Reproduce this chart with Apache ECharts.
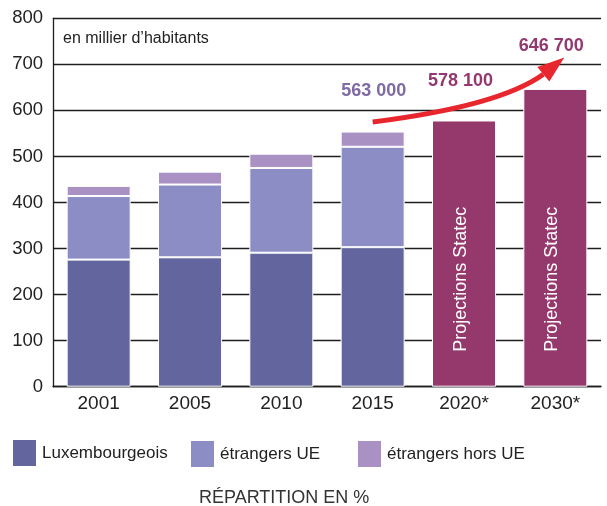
<!DOCTYPE html>
<html>
<head>
<meta charset="utf-8">
<style>
html,body{margin:0;padding:0;background:#fff;}
#c{width:607px;height:506px;}
</style>
<script src="https://cdn.jsdelivr.net/npm/echarts@6/dist/echarts.min.js"></script>
</head>
<body>
<div id="c"></div>
<script>
var categories = ['2001', '2005', '2010', '2015', '2020*', '2030*'];
var luxembourgeois = [276, 281, 291, 303, null, null];
var etrangersUE = [138, 158, 184, 218, null, null];
var etrangersHorsUE = [22, 28, 31, 33, null, null];
var projections = [null, null, null, null, 578.1, 646.7];
var totalLabelText = ['563 000', '578 100', '646 700'];
var totalLabelAt = [[3, 555], [4, 578.1], [5, 646.7]];
var yTicks = [0, 100, 200, 300, 400, 500, 600, 700, 800];

var FONT = "'Liberation Sans', Arial, Helvetica, sans-serif";
var C_LUX = '#63659e', C_UE = '#8b8dc4', C_HORS = '#a991c3', C_PROJ = '#95386c';
var LINE = '#1e1e1e';

var chart = echarts.init(document.getElementById('c'), null, {renderer: 'canvas'});

function barSeries(name, data, color) {
  return {
    name: name, type: 'bar', stack: 'pop', data: data,
    barWidth: 64,
    itemStyle: {color: color, borderColor: '#ffffff', borderWidth: 1},
    emphasis: {disabled: true}
  };
}

var labelColors = ['#7f6aa3', '#93396f', '#93396f'];
var labelOffsets = [[1, 2], [-3.5, 3], [-4, -1]];

var option = {
  animation: false,
  textStyle: {fontFamily: FONT},
  grid: {left: 53, right: 6, top: 18.3, bottom: 119.3, containLabel: false},
  xAxis: {
    type: 'category', data: categories,
    axisLine: {show: true, lineStyle: {color: LINE, width: 1.3}},
    axisTick: {show: false},
    axisLabel: {fontSize: 19, color: '#222', margin: 8, fontFamily: FONT}
  },
  yAxis: {
    type: 'value', min: yTicks[0], max: yTicks[yTicks.length - 1], interval: 100,
    axisLine: {show: true, lineStyle: {color: LINE, width: 1.3}},
    axisTick: {show: false},
    axisLabel: {fontSize: 18.5, color: '#222', margin: 10, fontFamily: FONT},
    splitLine: {show: true, lineStyle: {color: LINE, width: 1.3}}
  },
  legend: [
    {left: 13, top: 440, data: ['Luxembourgeois']},
    {left: 191, top: 441, data: ['étrangers UE']},
    {left: 358, top: 441, data: ['étrangers hors UE']}
  ].map(function (l) {
    l.itemWidth = 23; l.itemHeight = 26; l.itemGap = 0; l.icon = 'rect';
    l.selectedMode = false;
    l.itemStyle = {borderWidth: 0};
    l.textStyle = {fontSize: 17, color: '#222', fontFamily: FONT, padding: [0, 0, 0, 1]};
    l.padding = 0;
    return l;
  }),
  title: {
    text: 'RÉPARTITION EN %', left: 199, top: 489, padding: 0,
    textStyle: {fontSize: 18, fontWeight: 'normal', color: '#333', fontFamily: FONT}
  },
  series: [
    barSeries('Luxembourgeois', luxembourgeois, C_LUX),
    barSeries('étrangers UE', etrangersUE, C_UE),
    barSeries('étrangers hors UE', etrangersHorsUE, C_HORS),
    {
      name: 'Projections', type: 'bar', stack: 'pop', data: projections, barWidth: 64,
      itemStyle: {color: C_PROJ, borderColor: '#ffffff', borderWidth: 1},
      emphasis: {disabled: true},
      label: {
        show: true, position: 'insideBottom', distance: 35, rotate: 90,
        align: 'left', verticalAlign: 'middle', offset: [0, -3],
        formatter: 'Projections Statec', color: '#ffffff', fontSize: 18, fontFamily: FONT
      }
    },
    {
      name: 'totals', type: 'scatter', symbolSize: 0, silent: true, z: 5,
      itemStyle: {opacity: 1},
      data: totalLabelAt.map(function (p, i) {
        return {
          value: p,
          label: {
            show: true, position: 'top', distance: 33, offset: labelOffsets[i],
            formatter: totalLabelText[i], color: labelColors[i],
            fontSize: 18, fontWeight: 'bold', fontFamily: FONT, opacity: 1
          }
        };
      })
    }
  ]
};
chart.setOption(option);

// annotation: subtitle + red arrow
var s = chart.convertToPixel({gridIndex: 0}, [3, 575]);
var e = chart.convertToPixel({gridIndex: 0}, [5, 714]);
var tip = [e[0] + 9, e[1] - 0.5];
var b1 = [tip[0] - 27, tip[1] + 9.5];
var b2 = [tip[0] - 15, tip[1] + 24];
var bm = [(b1[0] + b2[0]) / 2, (b1[1] + b2[1]) / 2];
var ctrl = [s[0] + 127, s[1] - 16];

chart.setOption({
  graphic: [
    {
      type: 'text', left: 63, top: 31, z: 10,
      style: {text: 'en millier d’habitants', fontSize: 16, fill: '#222', fontFamily: FONT}
    },
    {
      type: 'bezierCurve', z: 10, silent: true,
      shape: {x1: s[0], y1: s[1], x2: bm[0], y2: bm[1], cpx1: ctrl[0], cpy1: ctrl[1]},
      style: {stroke: '#e8262d', lineWidth: 5, fill: null}
    },
    {
      type: 'polygon', z: 10, silent: true,
      shape: {points: [tip, b1, b2]},
      style: {fill: '#e8262d'}
    }
  ]
});
</script>
</body>
</html>
